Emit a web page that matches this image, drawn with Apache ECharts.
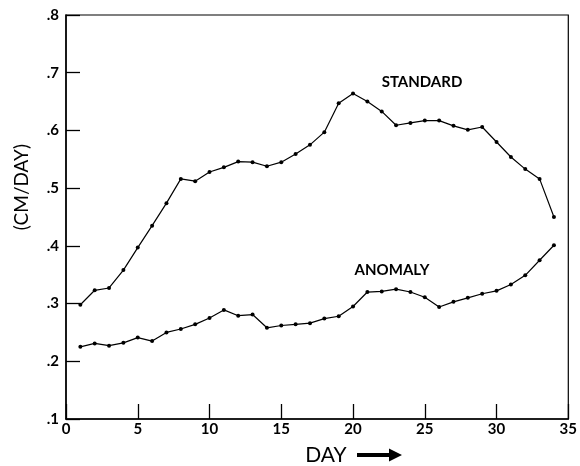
<!DOCTYPE html>
<html>
<head>
<meta charset="utf-8">
<script src="https://cdn.jsdelivr.net/npm/echarts@6/dist/echarts.min.js"></script>
<style>
    html, body { margin: 0; padding: 0; background: #fff; }
    #chart { width: 580px; height: 466px; }
</style>
</head>
<body>
<div id="chart"></div>
<script>
    // day numbers
    var days = [1, 2, 3, 4, 5, 6, 7, 8, 9, 10, 11, 12, 13, 14, 15, 16, 17,
        18, 19, 20, 21, 22, 23, 24, 25, 26, 27, 28, 29, 30, 31, 32, 33, 34];
    // cm/day
    var standard = [0.298, 0.323, 0.327, 0.358, 0.397, 0.435, 0.474, 0.516, 0.512, 0.528,
        0.536, 0.546, 0.545, 0.538, 0.545, 0.559, 0.575, 0.597, 0.647, 0.664,
        0.650, 0.633, 0.609, 0.613, 0.617, 0.617, 0.608, 0.601, 0.606, 0.580,
        0.554, 0.533, 0.516, 0.450];
    var anomaly = [0.225, 0.231, 0.227, 0.232, 0.241, 0.235, 0.250, 0.256, 0.264, 0.275,
        0.289, 0.279, 0.281, 0.258, 0.262, 0.264, 0.266, 0.274, 0.278, 0.295,
        0.320, 0.321, 0.325, 0.320, 0.311, 0.294, 0.303, 0.310, 0.317, 0.322,
        0.333, 0.349, 0.375, 0.401];

    function pairs(ys) {
        return days.map(function (d, i) { return [d, ys[i]]; });
    }

    var font = 'Lato, "DejaVu Sans", sans-serif';

    var option = {
        animation: false,
        grid: {
            left: 66,
            right: 8,
            top: 15,
            bottom: 47,
            show: true,
            borderColor: '#000',
            borderWidth: 1.2
        },
        xAxis: {
            type: 'value',
            min: 0,
            max: 35,
            interval: 5,
            splitLine: { show: false },
            axisLine: { lineStyle: { color: '#000', width: 1.5 } },
            axisTick: { inside: true, length: 15, lineStyle: { color: '#000', width: 1.3 } },
            axisLabel: {
                color: '#000',
                fontFamily: font,
                fontWeight: 'bold',
                fontSize: 15,
                margin: 3
            }
        },
        yAxis: {
            type: 'value',
            min: 0.1,
            max: 0.8,
            interval: 0.1,
            splitLine: { show: false },
            axisLine: { lineStyle: { color: '#000', width: 1.5 } },
            axisTick: { inside: true, length: 14, lineStyle: { color: '#000', width: 1.3 } },
            axisLabel: {
                color: '#000',
                fontFamily: font,
                fontWeight: 'bold',
                fontSize: 15,
                margin: 7,
                formatter: function (v) {
                    return v.toFixed(1).replace('0.', '.');
                }
            }
        },
        graphic: [
            {
                type: 'text',
                x: 22,
                y: 187,
                rotation: Math.PI / 2,
                style: {
                    text: '(CM/DAY)',
                    fill: '#000',
                    font: '19px ' + font,
                    align: 'center',
                    verticalAlign: 'middle'
                }
            },
            {
                type: 'text',
                x: 422,
                y: 82,
                style: { text: 'STANDARD', fill: '#000', font: 'bold 15px ' + font, align: 'center', verticalAlign: 'middle' }
            },
            {
                type: 'text',
                x: 392,
                y: 270,
                style: { text: 'ANOMALY', fill: '#000', font: 'bold 15px ' + font, align: 'center', verticalAlign: 'middle' }
            },
            {
                type: 'text',
                x: 326,
                y: 455,
                style: { text: 'DAY', fill: '#000', font: '21px ' + font, align: 'center', verticalAlign: 'middle' }
            },
            {
                type: 'polygon',
                shape: {
                    points: [[357, 453], [389, 453], [389, 448.5], [402, 455], [389, 461.5], [389, 457], [357, 457]]
                },
                style: { fill: '#000' }
            }
        ],
        series: [
            {
                name: 'STANDARD',
                type: 'line',
                data: pairs(standard),
                symbol: 'circle',
                symbolSize: 4,
                itemStyle: { color: '#000' },
                lineStyle: { color: '#000', width: 1.2 }
            },
            {
                name: 'ANOMALY',
                type: 'line',
                data: pairs(anomaly),
                symbol: 'circle',
                symbolSize: 4,
                itemStyle: { color: '#000' },
                lineStyle: { color: '#000', width: 1.2 }
            }
        ]
    };

    var myChart = echarts.init(document.getElementById('chart'));
    myChart.setOption(option);
</script>
</body>
</html>
